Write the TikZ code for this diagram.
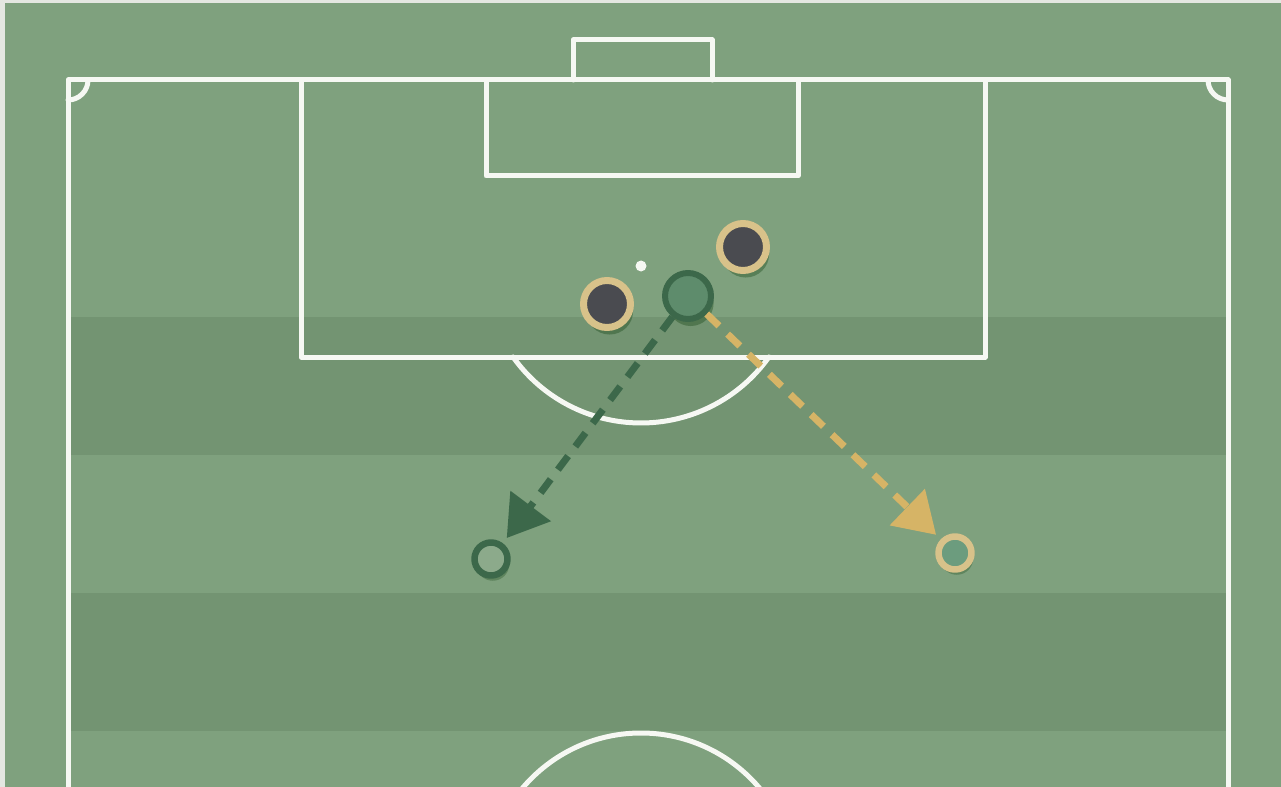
\documentclass[tikz,border=0pt]{standalone}
\usepackage{tikz}
\usetikzlibrary{arrows.meta, calc, shadows}

\definecolor{framegrey}{RGB}{228,231,225}
\definecolor{fieldlight}{RGB}{127,161,126}
\definecolor{fielddark}{RGB}{115,148,114}
\definecolor{chalk}{RGB}{246,248,243}
\definecolor{tanring}{RGB}{216,194,138}
\definecolor{oppofill}{RGB}{74,75,80}
\definecolor{mateline}{RGB}{60,104,74}
\definecolor{matefill}{RGB}{94,140,108}
\definecolor{tanarrow}{RGB}{214,180,102}

\tikzset{
	pitchline/.style={chalk, line width=0.1cm},
	soft shadow/.style={drop shadow={shadow xshift=1.5pt, shadow yshift=-4pt, opacity=0.3, fill=black!80!green}},
	opponent/.style={circle, inner sep=0pt, minimum size=0.94cm, fill=oppofill, draw=tanring, line width=0.14cm, soft shadow},
	mate/.style={circle, inner sep=0pt, minimum size=0.92cm, fill=matefill, draw=mateline, line width=0.12cm, soft shadow},
	target/.style={circle, inner sep=0pt, minimum size=0.66cm, line width=0.13cm,
		drop shadow={shadow xshift=1pt, shadow yshift=-3pt, opacity=0.25, fill=black!80!green}},
	runline/.style={line width=0.14cm, line cap=butt, dash pattern=on 0.34cm off 0.24cm, shorten >=0.13cm,
		-{Triangle[length=0.8cm, width=0.98cm]}}
}

\begin{document}
\begin{tikzpicture}[x=0.02cm, y=-0.02cm, line cap=round, line join=round]
				\useasboundingbox (0,0) rectangle (1281,787);
				\clip (0,0) rectangle (1281,787);
				\fill[framegrey] (0,0) rectangle (1281,787);
				\fill[fieldlight] (5,3) rectangle (1281,787);
				
				% stripes
				\foreach \y in {317,593}
					\fill[fielddark] (70,\y) rectangle (1226,\y+138);
				
				% pitch markings
				\draw[pitchline] (68,800) -- (68,80) -- (1228,80) -- (1228,800);
				\draw[pitchline] (573,80) -- (573,40) -- (712,40) -- (712,80);
				\draw[pitchline] (301,80) -- (301,357) -- (985,357) -- (985,80);
				\draw[pitchline] (486,80) -- (486,176) -- (798,176) -- (798,80);
				\draw[pitchline] (88,80) arc[start angle=0, end angle=90, radius=20];
				\draw[pitchline] (1208,80) arc[start angle=180, end angle=90, radius=20];
				\coordinate (P) at (641,266);
				\fill[chalk] (P) circle(5.5);
				\draw[pitchline] ($(P)+(35.4:157)$) arc[start angle=35.4, end angle=144.6, radius=157];
				\draw[pitchline] (641,888) circle(155);
				
				% players
				\node[opponent] (O1) at (607,304) {};
				\node[opponent] (O2) at (743,247) {};
				\node[mate] (M) at (688,296) {};
				\node[target, draw=mateline, fill=fieldlight!90!white] (T1) at (491,559) {};
				\node[target, draw=tanring, fill=fieldlight!85!teal] (T2) at (955,553) {};
				
				% runs
				\draw[runline, mateline] (M) -- (T1);
				\draw[runline, tanarrow] (M) -- (T2);
			\end{tikzpicture}
\end{document}
